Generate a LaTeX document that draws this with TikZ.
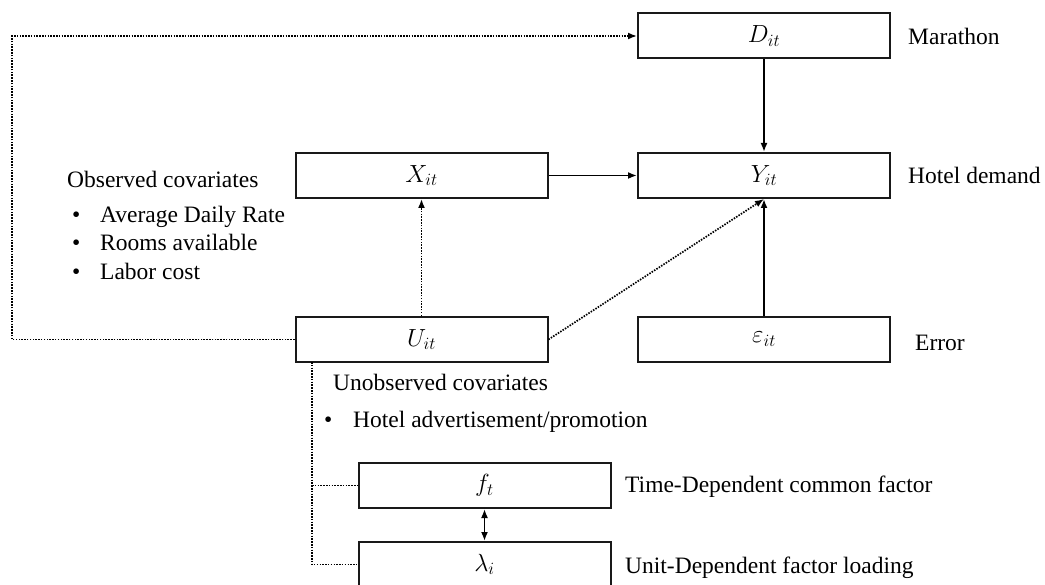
\documentclass[tikz,border=0pt]{standalone}
\usepackage{fontspec}
\setmainfont{Liberation Serif}
\usetikzlibrary{arrows.meta}
\begin{document}
\begin{tikzpicture}[x=1bp,y=-1bp,
  box/.style={draw=black!90,line width=2bp,minimum width=252bp,minimum height=45bp,inner sep=0pt,font=\fontsize{27bp}{30bp}\selectfont},
  lbl/.style={anchor=west,inner sep=0pt,text height=0.7em,text depth=0.22em,font=\fontsize{23.5bp}{28bp}\selectfont},
  solidarrow/.style={line width=1.9bp,-{Latex[length=9bp,width=7bp]}},
  dotline/.style={line width=1.7bp,dash pattern=on 1.5bp off 1.3bp},
  dotarrow/.style={dotline,-{Latex[length=9bp,width=7bp]}},
  dblarrow/.style={line width=1.9bp,{Latex[length=9bp,width=7bp]}-{Latex[length=9bp,width=7bp]}}
]
\useasboundingbox (0,0) rectangle (1045,585);
% boxes
\node[box] (D) at (764,36) {$D_{it}$};
\node[box] (Y) at (764,175.5) {$Y_{it}$};
\node[box] (E) at (764,339.5) {$\varepsilon_{it}$};
\node[box] (X) at (421.5,175.5) {$X_{it}$};
\node[box] (U) at (421.5,339.5) {$U_{it}$};
\node[box] (F) at (484.5,485.5) {$f_t$};
\node[box] (L) at (484.5,564.5) {$\lambda_i$};
% labels
\node[lbl] (mar) at (908,42) {Marathon};
\node[lbl] (hd) at (908,181) {Hotel demand};
\node[lbl] (err) at (915,348) {Error};
\node[lbl] (tdc) at (625,490) {Time-Dependent common factor};
\node[lbl] (udf) at (625,571) {Unit-Dependent factor loading};
\node[lbl] (obs) at (67,185) {Observed covariates};
\node[lbl] (b1) at (72,220) {\textbullet};
\node[lbl] (o1) at (100,220) {Average Daily Rate};
\node[lbl] (b2) at (72,248) {\textbullet};
\node[lbl] (o2) at (100,248) {Rooms available};
\node[lbl] (b3) at (72,277) {\textbullet};
\node[lbl] (o3) at (100,277) {Labor cost};
\node[lbl] (uns) at (333,388) {Unobserved covariates};
\node[lbl] (b4) at (324,425) {\textbullet};
\node[lbl] (u1) at (353,425) {Hotel advertisement/promotion};
% solid connectors
\draw[solidarrow] (D.south) -- (Y.north);
\draw[solidarrow] (X.east) -- (Y.west);
\draw[solidarrow] (E.north) -- (Y.south);
\draw[dblarrow] (F.south) -- (L.north);
% dotted connectors
\draw[dotarrow] (U.north) -- (X.south);
\draw[dotarrow] (U.east) -- (Y.south);
\coordinate (c1) at (12,339.5);
\coordinate (c2) at (12,36);
\draw[dotarrow] (U.west) -- (c1) -- (c2) -- (D.west);
\coordinate (t0) at (312,362);
\coordinate (t1) at (312,485.5);
\coordinate (t2) at (312,564.5);
\draw[dotline] (t0) -- (t2) -- (L.west);
\draw[dotline] (t1) -- (F.west);
\end{tikzpicture}
\end{document}
